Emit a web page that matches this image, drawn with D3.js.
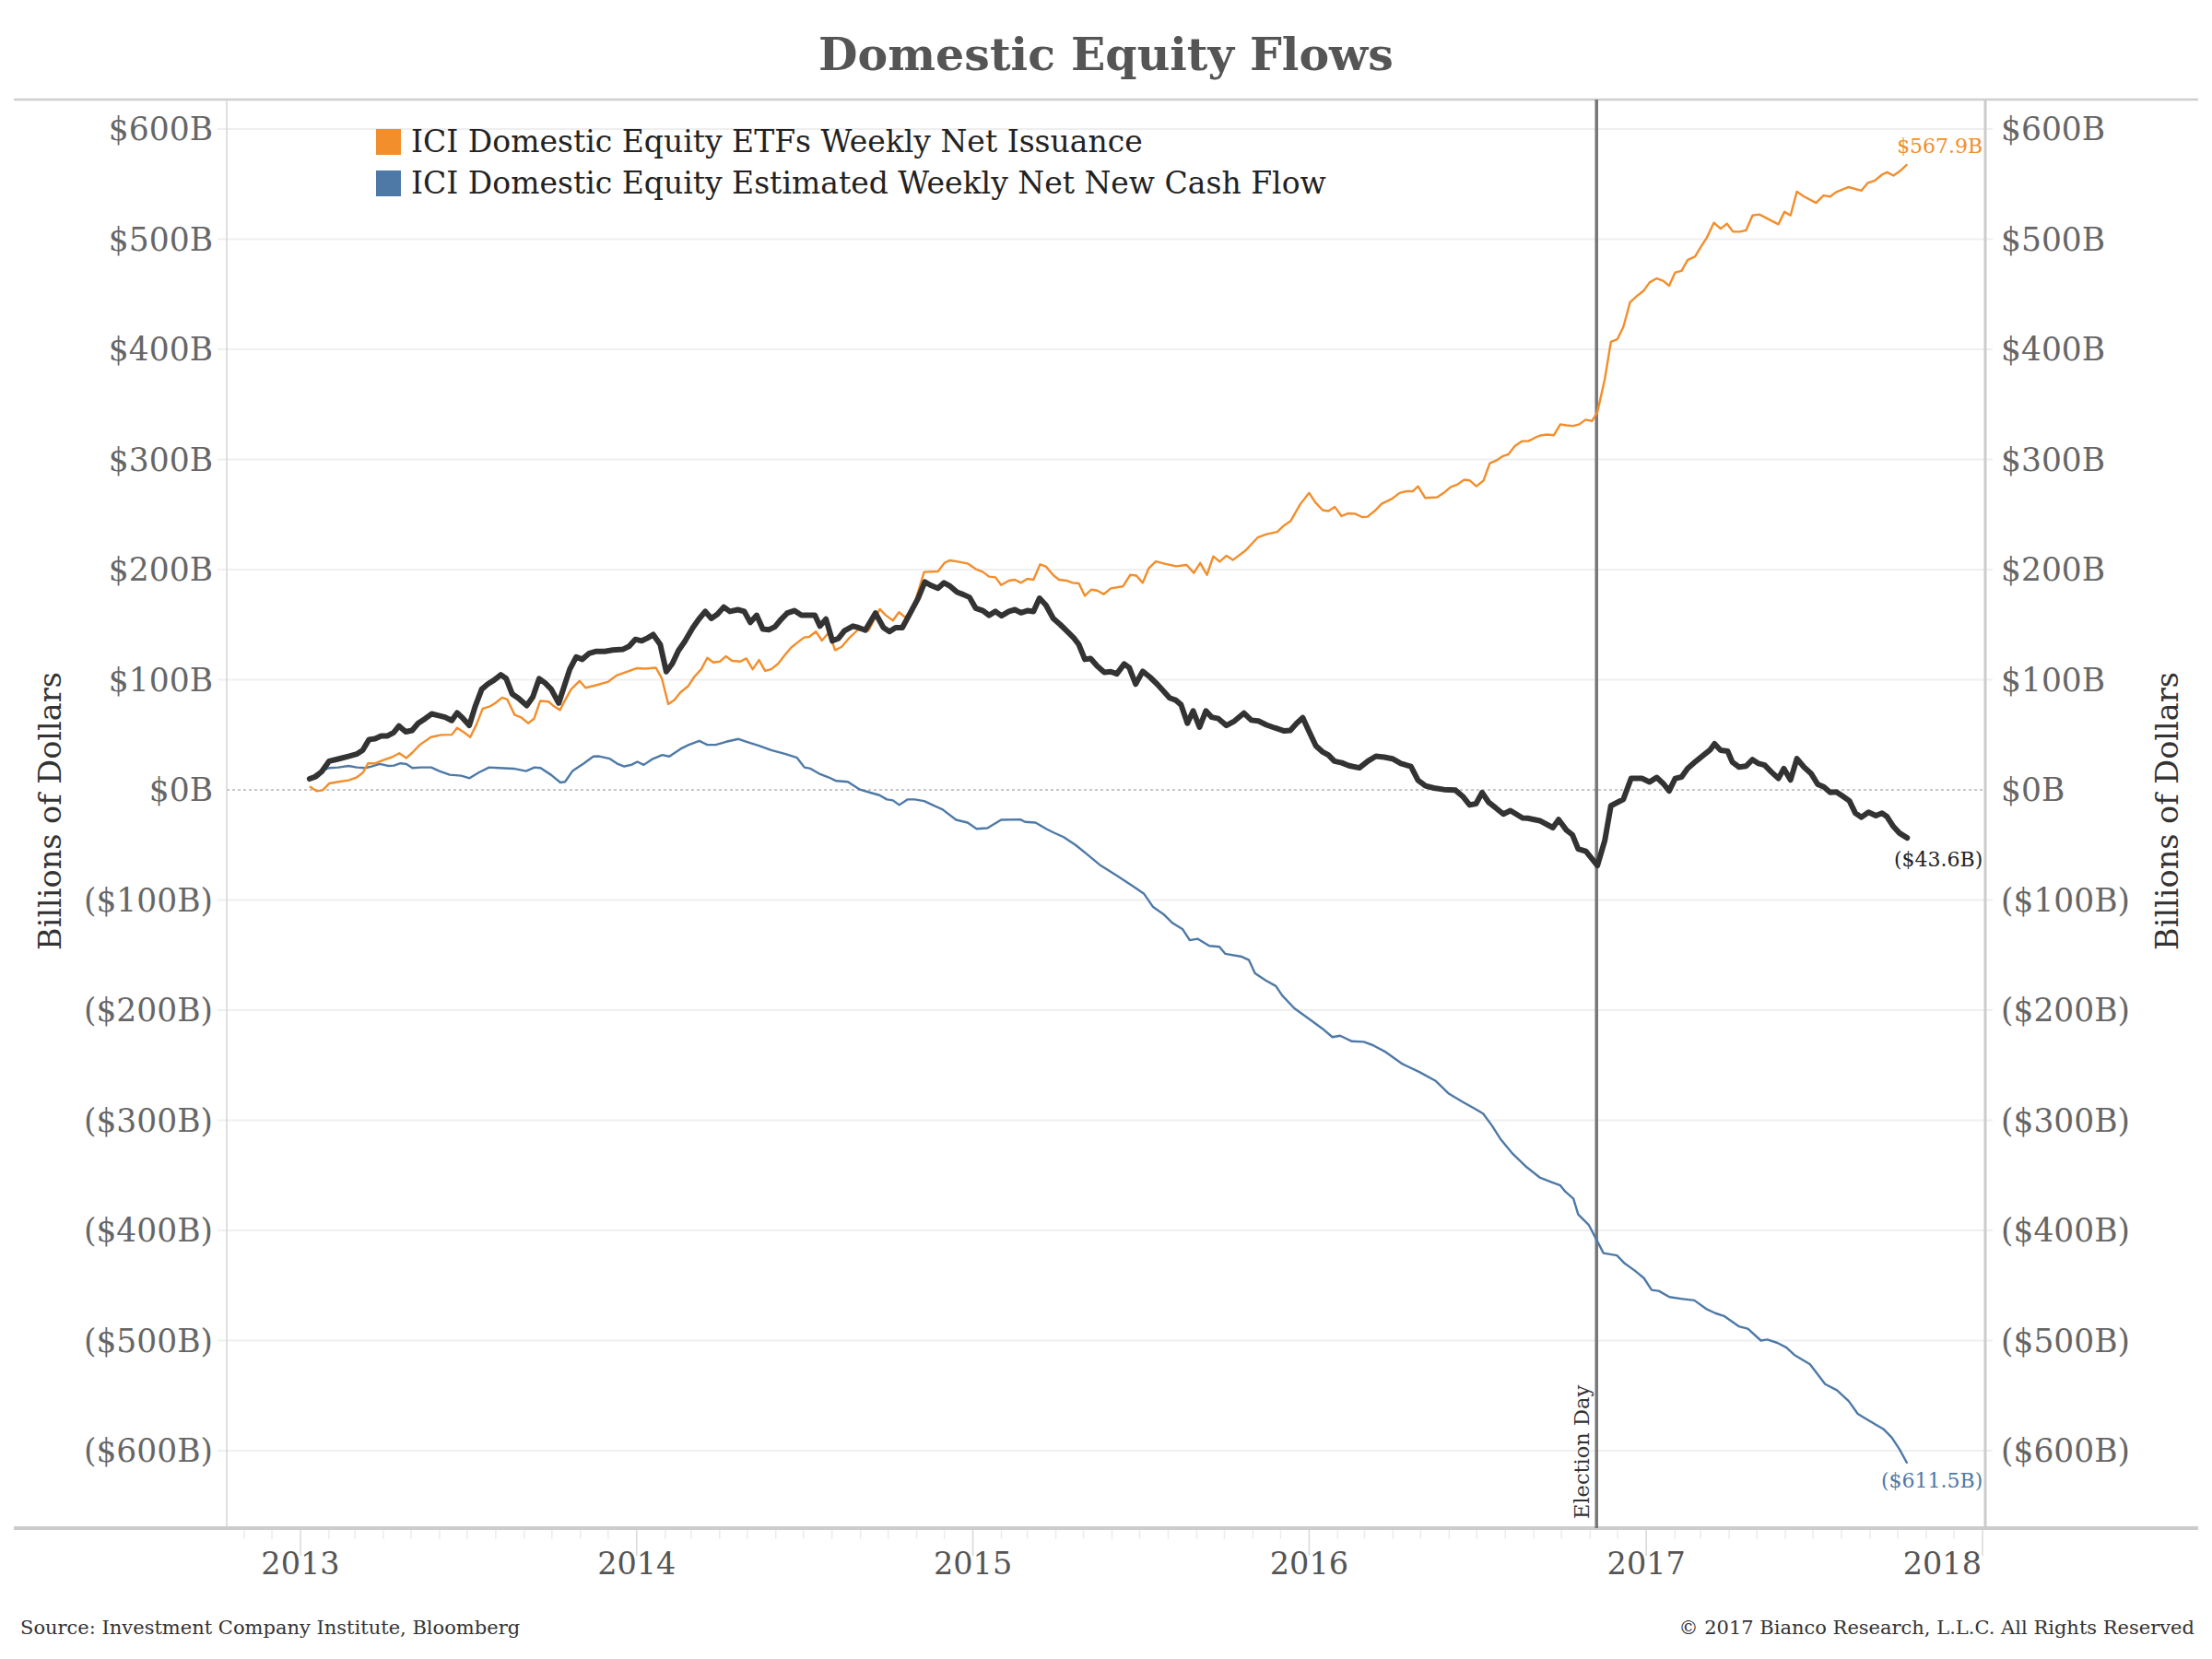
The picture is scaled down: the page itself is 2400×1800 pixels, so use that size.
<!DOCTYPE html>
<html>
<head>
<meta charset="utf-8">
<title>Domestic Equity Flows</title>
<style>
  body { margin: 0; background: #fff; }
  svg { display: block; font-family: "DejaVu Serif", Georgia, serif; }
</style>
</head>
<body>
<svg width="2400" height="1800"></svg>
<script src="https://d3js.org/d3.v7.min.js"></script>
<script>
// weekly cumulative flows, [decimal year, $B]
var etfFlows = [[2013.027,3.1],[2013.048,-1.1],[2013.066,-0.3],[2013.086,5.9],[2013.113,7.3],[2013.143,8.7],[2013.168,11.5],[2013.186,15.7],[2013.201,24.1],[2013.223,24.1],[2013.245,26.9],[2013.272,29.7],[2013.294,33.3],[2013.315,28.9],[2013.333,33.9],[2013.355,40.9],[2013.388,47.9],[2013.419,49.9],[2013.45,50.1],[2013.466,56.3],[2013.487,52.1],[2013.505,47.9],[2013.523,59.1],[2013.542,73.7],[2013.564,75.9],[2013.579,78.7],[2013.6,83.8],[2013.615,82.1],[2013.637,68.1],[2013.655,66.1],[2013.677,60.5],[2013.695,64.7],[2013.713,80.7],[2013.738,80.1],[2013.754,75.9],[2013.772,72.5],[2013.787,81.5],[2013.805,91.3],[2013.83,98.9],[2013.848,92.7],[2013.879,95],[2013.916,98.3],[2013.94,103.9],[2013.971,107.3],[2013.999,110.4],[2014.026,110.1],[2014.057,110.9],[2014.075,101.1],[2014.094,77.9],[2014.112,81.5],[2014.13,88.5],[2014.153,94.1],[2014.171,102.5],[2014.192,109.5],[2014.21,119.9],[2014.228,115.7],[2014.247,116.5],[2014.265,121.3],[2014.284,117.1],[2014.308,116.5],[2014.326,119.3],[2014.345,109.5],[2014.364,117.9],[2014.382,108.1],[2014.4,109.5],[2014.421,114.6],[2014.44,122.1],[2014.459,129.1],[2014.48,134.2],[2014.498,138.4],[2014.513,138.9],[2014.533,143.7],[2014.551,135.6],[2014.572,143.1],[2014.59,126.9],[2014.609,129.7],[2014.631,137.5],[2014.658,145.4],[2014.689,144.5],[2014.723,164.1],[2014.741,158.5],[2014.762,153.8],[2014.78,161.3],[2014.799,156.6],[2014.824,167],[2014.855,197.8],[2014.896,198.3],[2014.916,206.2],[2014.932,208.4],[2014.959,207],[2014.986,205.3],[2015.008,200.6],[2015.03,197.8],[2015.048,193.6],[2015.067,193],[2015.084,186],[2015.107,190],[2015.125,190.8],[2015.143,188],[2015.162,191.6],[2015.18,190.8],[2015.2,204.8],[2015.217,202.8],[2015.239,195],[2015.256,190.8],[2015.278,190],[2015.297,188],[2015.315,187.4],[2015.333,176.2],[2015.352,181.8],[2015.37,181],[2015.389,177.6],[2015.41,182.9],[2015.446,184.7],[2015.468,195.2],[2015.486,194.6],[2015.505,188],[2015.523,201.2],[2015.544,207.5],[2015.573,205.1],[2015.604,203],[2015.636,204.2],[2015.657,197],[2015.676,206],[2015.696,195.2],[2015.715,212],[2015.734,207.2],[2015.754,212.6],[2015.773,208.7],[2015.81,217.1],[2015.847,229.1],[2015.873,232.1],[2015.905,234.2],[2015.926,240.2],[2015.945,244.1],[2015.973,259.1],[2016.0,269.6],[2016.018,261.2],[2016.04,254],[2016.057,253.1],[2016.076,257],[2016.096,248.6],[2016.115,251],[2016.136,250.7],[2016.157,247.7],[2016.173,248],[2016.194,253.1],[2016.215,259.7],[2016.247,264.5],[2016.268,269.6],[2016.289,271.1],[2016.307,271.1],[2016.323,275.6],[2016.344,265.1],[2016.38,265.7],[2016.399,269.6],[2016.42,275],[2016.439,277.1],[2016.46,281.6],[2016.476,281],[2016.496,275.6],[2016.517,280.7],[2016.536,296.6],[2016.555,299],[2016.575,303.1],[2016.591,304.6],[2016.61,312.1],[2016.631,316.6],[2016.65,316.6],[2016.671,319.9],[2016.689,322],[2016.707,322.6],[2016.726,322],[2016.745,331.9],[2016.763,331],[2016.783,330.4],[2016.801,331.9],[2016.82,336.1],[2016.839,334.9],[2016.855,343],[2016.877,373],[2016.895,406.8],[2016.914,409],[2016.932,420.3],[2016.952,442.8],[2016.973,448.6],[2016.992,453.1],[2017.01,460.8],[2017.031,464.4],[2017.05,462.2],[2017.068,457.7],[2017.086,469.8],[2017.105,471.2],[2017.123,481.1],[2017.145,484.2],[2017.161,492.3],[2017.18,501.4],[2017.201,514.9],[2017.221,509.5],[2017.24,514],[2017.258,506.8],[2017.279,506.8],[2017.297,508.1],[2017.316,521.6],[2017.336,522.5],[2017.356,519.4],[2017.393,513.5],[2017.411,524.8],[2017.429,521.6],[2017.448,543.2],[2017.469,538.7],[2017.505,532.9],[2017.527,539.6],[2017.547,538.7],[2017.565,542.8],[2017.602,547.3],[2017.64,544.1],[2017.658,550.9],[2017.68,553.2],[2017.701,558.6],[2017.716,560.8],[2017.735,557.7],[2017.756,562.2],[2017.776,567.9]];

var mutualFundFlows = [[2013.027,8.7],[2013.045,14.3],[2013.066,17.6],[2013.086,19.9],[2013.113,20.4],[2013.143,21.8],[2013.168,20.4],[2013.193,19.9],[2013.211,21.3],[2013.236,23.5],[2013.26,21.8],[2013.278,22.1],[2013.297,24.1],[2013.315,23.5],[2013.333,19.9],[2013.358,20.4],[2013.389,20.4],[2013.413,17.1],[2013.444,13.7],[2013.478,12.9],[2013.503,10.6],[2013.53,15.7],[2013.561,20.4],[2013.591,19.9],[2013.634,19.3],[2013.671,17.1],[2013.696,20.4],[2013.714,19.9],[2013.745,13.7],[2013.773,6.7],[2013.787,7.3],[2013.809,17.1],[2013.843,24.1],[2013.871,30.3],[2013.888,30.5],[2013.92,28.3],[2013.944,23.5],[2013.963,21.3],[2013.984,22.7],[2014.002,25.5],[2014.021,22.7],[2014.045,27.7],[2014.076,31.7],[2014.097,30.3],[2014.131,37.3],[2014.155,40.9],[2014.186,44.5],[2014.21,40.9],[2014.235,40.9],[2014.266,43.7],[2014.303,46.2],[2014.327,43.7],[2014.364,40.1],[2014.4,36.1],[2014.443,32.5],[2014.477,29.1],[2014.499,20.4],[2014.517,19.3],[2014.542,14.8],[2014.57,11.5],[2014.594,8.1],[2014.628,7.3],[2014.664,0.3],[2014.695,-2.5],[2014.722,-4.8],[2014.744,-8.7],[2014.762,-9.5],[2014.781,-13.7],[2014.805,-8.7],[2014.827,-8.7],[2014.855,-10.1],[2014.88,-13.7],[2014.91,-17.9],[2014.95,-27.2],[2014.984,-29.7],[2015.011,-35.3],[2015.043,-34.7],[2015.084,-27.2],[2015.141,-26.9],[2015.155,-29.1],[2015.186,-29.7],[2015.219,-35.6],[2015.241,-38.9],[2015.27,-42.9],[2015.306,-50.2],[2015.337,-57.9],[2015.38,-68.7],[2015.429,-78.1],[2015.479,-88],[2015.509,-94.4],[2015.535,-106],[2015.567,-112.9],[2015.594,-121],[2015.624,-126.6],[2015.645,-136.5],[2015.668,-135.2],[2015.703,-141.6],[2015.733,-142.5],[2015.751,-148.9],[2015.8,-151.5],[2015.821,-154.5],[2015.839,-166.5],[2015.871,-173],[2015.901,-178.1],[2015.92,-186.7],[2015.956,-198.3],[2015.995,-206.9],[2016.039,-216.7],[2016.069,-224.5],[2016.092,-223.2],[2016.127,-228.3],[2016.162,-228.8],[2016.189,-231.8],[2016.228,-238.2],[2016.277,-248.9],[2016.327,-256.2],[2016.374,-264],[2016.415,-276],[2016.455,-283.3],[2016.493,-289.7],[2016.516,-294],[2016.542,-304.7],[2016.569,-317.6],[2016.604,-330.5],[2016.645,-342.5],[2016.684,-351.9],[2016.719,-356.2],[2016.745,-359.2],[2016.76,-364.8],[2016.784,-371.2],[2016.798,-385.4],[2016.829,-394.8],[2016.855,-409.9],[2016.873,-420.6],[2016.913,-422.7],[2016.936,-430],[2016.966,-436.5],[2016.993,-443.3],[2017.016,-454.1],[2017.037,-454.9],[2017.069,-460.5],[2017.108,-462.2],[2017.143,-463.5],[2017.178,-471.2],[2017.205,-475.1],[2017.231,-477.7],[2017.275,-487.1],[2017.302,-489.3],[2017.341,-500],[2017.36,-499.1],[2017.39,-502.1],[2017.417,-506.4],[2017.44,-512.9],[2017.487,-521.5],[2017.532,-539.5],[2017.567,-545.1],[2017.602,-554.9],[2017.629,-566.5],[2017.664,-573],[2017.705,-580.3],[2017.73,-588],[2017.753,-598.7],[2017.776,-611.5]];

var totalFlows = [[2013.027,10],[2013.045,12],[2013.063,16.5],[2013.085,26],[2013.112,28],[2013.143,30.5],[2013.167,32.5],[2013.185,36],[2013.204,45.7],[2013.222,46.5],[2013.24,49],[2013.259,49],[2013.277,52],[2013.293,58],[2013.313,52.7],[2013.332,54],[2013.35,60.5],[2013.371,64.7],[2013.39,69],[2013.411,67.5],[2013.43,66],[2013.45,63],[2013.466,70],[2013.484,64.7],[2013.502,58.5],[2013.52,76],[2013.539,91.3],[2013.557,96],[2013.576,99.7],[2013.596,104.5],[2013.612,101],[2013.63,87],[2013.649,83],[2013.673,76.5],[2013.691,84.3],[2013.71,101],[2013.728,97],[2013.746,91.3],[2013.768,78.7],[2013.783,92.7],[2013.801,109.5],[2013.82,120.7],[2013.838,118.5],[2013.859,124],[2013.88,125.8],[2013.905,125.8],[2013.929,127],[2013.96,127.7],[2013.978,130.5],[2013.996,136.7],[2014.015,135.3],[2014.033,138],[2014.049,141],[2014.07,132],[2014.088,107.3],[2014.106,114.6],[2014.124,126.3],[2014.143,134.7],[2014.167,147.3],[2014.185,155],[2014.204,162],[2014.222,155.7],[2014.24,159.4],[2014.259,166],[2014.277,162],[2014.301,163.6],[2014.32,162],[2014.338,152],[2014.357,158.5],[2014.375,146],[2014.393,145.4],[2014.411,148],[2014.43,155],[2014.448,160.5],[2014.469,162.7],[2014.49,158.5],[2014.515,158.5],[2014.53,158.5],[2014.545,148.7],[2014.563,155],[2014.582,135.3],[2014.6,137.5],[2014.618,144.5],[2014.643,148.7],[2014.66,147.3],[2014.68,145],[2014.71,160.5],[2014.734,147.3],[2014.752,143.7],[2014.77,147.3],[2014.79,147.3],[2014.81,158.5],[2014.837,174],[2014.857,188.8],[2014.873,186],[2014.896,183],[2014.914,188],[2014.932,185],[2014.953,179.5],[2014.972,177.3],[2014.99,174.8],[2015.008,165],[2015.03,162.7],[2015.048,158.5],[2015.067,162],[2015.085,158],[2015.107,162],[2015.125,163.6],[2015.143,160.8],[2015.162,162.7],[2015.18,162],[2015.198,174],[2015.217,167.8],[2015.239,155.7],[2015.26,150],[2015.28,144],[2015.3,138],[2015.315,132],[2015.333,118.5],[2015.35,119.3],[2015.37,112.3],[2015.391,106.7],[2015.41,107.3],[2015.428,105.3],[2015.45,114.3],[2015.465,111],[2015.484,96],[2015.505,107.6],[2015.526,102.5],[2015.548,96],[2015.566,90],[2015.585,83.5],[2015.603,81.5],[2015.619,77.3],[2015.638,60.5],[2015.655,71.7],[2015.674,56.9],[2015.693,71.7],[2015.71,66],[2015.73,64.7],[2015.754,58.5],[2015.778,62.5],[2015.806,69.7],[2015.828,63.3],[2015.849,62.5],[2015.873,59],[2015.898,56.3],[2015.926,53.5],[2015.944,54],[2015.963,60.5],[2015.981,65.5],[2015.999,53.5],[2016.02,40],[2016.039,34.7],[2016.057,31.7],[2016.075,26],[2016.097,24.6],[2016.118,22],[2016.149,20],[2016.174,26],[2016.198,30.5],[2016.223,29.7],[2016.247,28.3],[2016.272,24],[2016.302,21.3],[2016.323,8.7],[2016.345,3.6],[2016.37,1.7],[2016.4,0.3],[2016.434,-0.3],[2016.456,-6],[2016.476,-13.7],[2016.495,-12.6],[2016.513,-2.5],[2016.533,-11.5],[2016.554,-16.5],[2016.576,-22],[2016.597,-18.8],[2016.633,-25.5],[2016.648,-25.7],[2016.684,-28],[2016.723,-34.3],[2016.74,-27],[2016.763,-36.5],[2016.781,-40.8],[2016.798,-53.6],[2016.821,-55.8],[2016.855,-68.7],[2016.877,-46],[2016.895,-14.4],[2016.932,-8.6],[2016.955,10.4],[2016.987,10.4],[2017.01,7.2],[2017.031,11.3],[2017.05,5.9],[2017.068,-0.9],[2017.086,10.4],[2017.105,11.7],[2017.123,19.4],[2017.148,26.1],[2017.17,31.5],[2017.189,36],[2017.203,41.9],[2017.221,36],[2017.242,35.1],[2017.256,25.2],[2017.276,20.7],[2017.297,21.6],[2017.316,27.5],[2017.334,23.9],[2017.352,22.5],[2017.372,16.2],[2017.393,10.4],[2017.409,19.4],[2017.429,9],[2017.448,28.4],[2017.469,20.7],[2017.49,14.9],[2017.51,5],[2017.528,2.7],[2017.547,-2.3],[2017.565,-1.8],[2017.583,-5.4],[2017.604,-9.9],[2017.622,-21.2],[2017.64,-24.8],[2017.661,-20.3],[2017.683,-23.4],[2017.701,-21.2],[2017.716,-24.3],[2017.735,-33.3],[2017.753,-39.2],[2017.776,-43.6]];

var yTicks = [600, 500, 400, 300, 200, 100, 0, -100, -200, -300, -400, -500, -600];
var years = [2013, 2014, 2015, 2016, 2017, 2018];
var legendNames = ["ICI Domestic Equity ETFs Weekly Net Issuance", "ICI Domestic Equity Estimated Weekly Net New Cash Flow"];
var electionDay = "2016-11-08";

var orange = "#f28e2b", blue = "#4e79a7", dark = "#333333";

function toDate(t) {
    var yr = Math.floor(t);
    var s = Date.UTC(yr, 0, 1), e = Date.UTC(yr + 1, 0, 1);
    return new Date(s + (t - yr) * (e - s));
}
function fmt(v) {
    return v < 0 ? "($" + Math.abs(v) + "B)" : "$" + v + "B";
}

var plotL = 246, plotR = 2154, plotT = 108, plotB = 1658;

var x = d3.scaleUtc().domain([new Date(Date.UTC(2013, 0, 1)), new Date(Date.UTC(2018, 0, 1))]).range([326, 2151]);
var y = d3.scaleLinear().domain([-600, 600]).range([1574, 140]);

var svg = d3.select("svg");

// title
svg.append("text").attr("x", 1200).attr("y", 76).attr("text-anchor", "middle")
    .attr("font-size", 49).attr("font-weight", "bold").attr("fill", "#555").text("Domestic Equity Flows");

// gridlines
svg.append("g").selectAll("line").data(yTicks.filter(function (d) { return d !== 0; })).join("line")
    .attr("x1", 236).attr("x2", plotR + 8)
    .attr("y1", function (d) { return y(d); }).attr("y2", function (d) { return y(d); })
    .attr("stroke", "#efefef").attr("stroke-width", 2);

svg.append("line").attr("x1", plotL).attr("x2", plotR).attr("y1", y(0)).attr("y2", y(0))
    .attr("stroke", "#b5b5b5").attr("stroke-width", 1.5).attr("stroke-dasharray", "3,3");

// frame
svg.append("line").attr("x1", 15).attr("x2", 2385).attr("y1", plotT).attr("y2", plotT)
    .attr("stroke", "#cfcfcf").attr("stroke-width", 2.5);
svg.append("line").attr("x1", plotL).attr("x2", plotL).attr("y1", plotT).attr("y2", plotB)
    .attr("stroke", "#d5d5d5").attr("stroke-width", 1.5);
svg.append("line").attr("x1", plotR).attr("x2", plotR).attr("y1", plotT).attr("y2", plotB)
    .attr("stroke", "#cccccc").attr("stroke-width", 3);

// x ticks
var minor = d3.utcMonth.range(new Date(Date.UTC(2012, 10, 1)), new Date(Date.UTC(2018, 1, 1)));
svg.append("g").selectAll("line").data(minor).join("line")
    .attr("x1", function (d) { return x(d); }).attr("x2", function (d) { return x(d); })
    .attr("y1", plotB).attr("y2", function (d) { return d.getUTCMonth() === 0 ? plotB + 30 : plotB + 12; })
    .attr("stroke", function (d) { return d.getUTCMonth() === 0 ? "#d8d8d8" : "#ececec"; })
    .attr("stroke-width", 1.5)
    .filter(function (d) { return x(d) < plotL || x(d) > plotR; }).remove();

svg.append("line").attr("x1", 15).attr("x2", 2385).attr("y1", plotB).attr("y2", plotB)
    .attr("stroke", "#cccccc").attr("stroke-width", 4);

svg.append("g").selectAll("text").data(years).join("text")
    .attr("x", function (d, i) { return i === years.length - 1 ? 2150 : x(new Date(Date.UTC(d, 0, 1))); })
    .attr("y", 1708)
    .attr("text-anchor", function (d, i) { return i === years.length - 1 ? "end" : "middle"; })
    .attr("font-size", 33.5).attr("fill", "#555").text(function (d) { return d; });

// y tick labels
var yl = svg.append("g").attr("font-size", 34.5).attr("fill", "#666");
yl.selectAll(".l").data(yTicks).join("text").attr("class", "l")
    .attr("x", 231).attr("y", function (d) { return y(d); }).attr("dy", "0.35em")
    .attr("text-anchor", "end").text(fmt);
yl.selectAll(".r").data(yTicks).join("text").attr("class", "r")
    .attr("x", 2171).attr("y", function (d) { return y(d); }).attr("dy", "0.35em")
    .attr("text-anchor", "start").text(fmt);

// axis titles
svg.append("text").attr("transform", "translate(66,880) rotate(-90)").attr("text-anchor", "middle")
    .attr("font-size", 33.5).attr("fill", "#333").text("Billions of Dollars");
svg.append("text").attr("transform", "translate(2363,880) rotate(-90)").attr("text-anchor", "middle")
    .attr("font-size", 33.5).attr("fill", "#333").text("Billions of Dollars");

// election day
var ex = x(new Date(electionDay));
svg.append("line").attr("x1", ex).attr("x2", ex).attr("y1", plotT).attr("y2", plotB)
    .attr("stroke", "#777").attr("stroke-width", 3.5);
svg.append("text").attr("transform", "translate(" + (ex - 8) + "," + (plotB - 10) + ") rotate(-90)")
    .attr("font-size", 22.5).attr("fill", "#333").text("Election Day");

// lines
var line = d3.line().x(function (d) { return x(toDate(d[0])); }).y(function (d) { return y(d[1]); });
svg.append("path").datum(mutualFundFlows).attr("d", line).attr("fill", "none")
    .attr("stroke", blue).attr("stroke-width", 2.4).attr("stroke-linejoin", "round");
svg.append("path").datum(etfFlows).attr("d", line).attr("fill", "none")
    .attr("stroke", orange).attr("stroke-width", 2.4).attr("stroke-linejoin", "round");
svg.append("path").datum(totalFlows).attr("d", line).attr("fill", "none")
    .attr("stroke", dark).attr("stroke-width", 6).attr("stroke-linejoin", "round").attr("stroke-linecap", "round");

// end labels
function endLabel(series, color, dy) {
    var last = series[series.length - 1];
    svg.append("text").attr("x", x(toDate(last[0])) + 82).attr("y", y(last[1]) + dy)
        .attr("text-anchor", "end").attr("font-size", 22).attr("fill", color)
        .text(last[1] < 0 ? "($" + Math.abs(last[1]).toFixed(1) + "B)" : "$" + last[1].toFixed(1) + "B");
}
endLabel(etfFlows, orange, -12);
endLabel(totalFlows, "#222", 31);
endLabel(mutualFundFlows, blue, 26);

// legend
var lg = svg.append("g").selectAll("g").data(legendNames).join("g")
    .attr("transform", function (d, i) { return "translate(408," + (140 + i * 45) + ")"; });
lg.append("rect").attr("width", 27).attr("height", 28)
    .attr("fill", function (d, i) { return i === 0 ? orange : blue; });
lg.append("text").attr("x", 38).attr("y", 25).attr("font-size", 33).attr("fill", "#222").text(function (d) { return d; });

// footer
svg.append("text").attr("x", 22).attr("y", 1773).attr("font-size", 21).attr("fill", "#333")
    .text("Source: Investment Company Institute, Bloomberg");
svg.append("text").attr("x", 2381).attr("y", 1773).attr("text-anchor", "end").attr("font-size", 21).attr("fill", "#333")
    .text("\u00a9 2017 Bianco Research, L.L.C. All Rights Reserved");
</script>
</body>
</html>
